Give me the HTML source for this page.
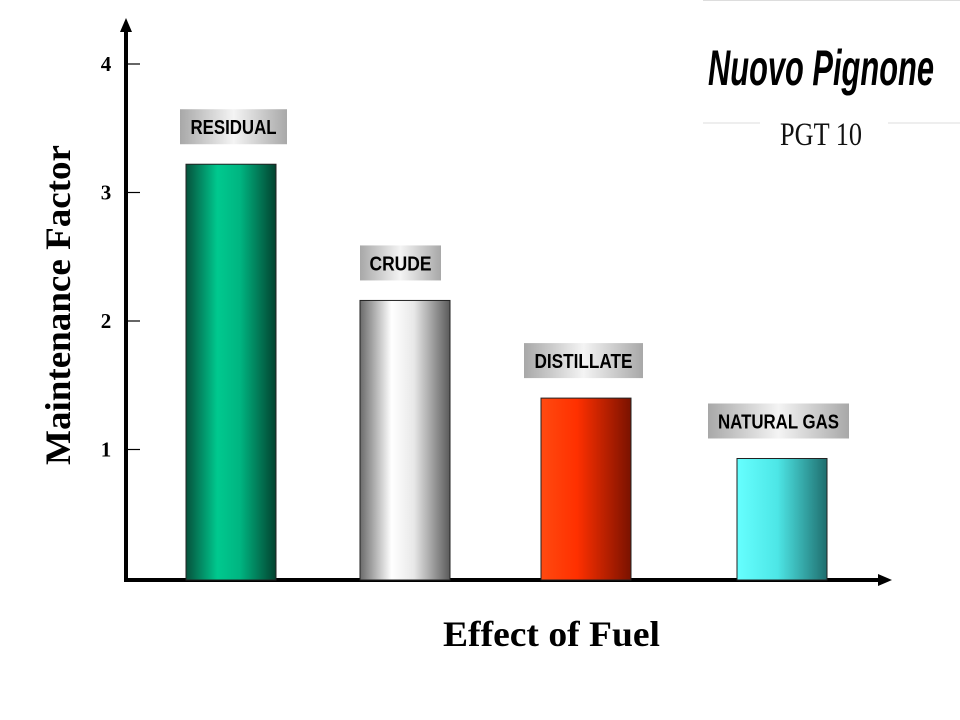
<!DOCTYPE html>
<html><head><meta charset="utf-8"><style>
body{margin:0;background:#fff;}
svg{display:block;}
</style></head><body>
<svg id="chart" width="960" height="720" viewBox="0 0 960 720" xmlns="http://www.w3.org/2000/svg">
<defs>
<linearGradient id="gGreen" x1="0" x2="1"><stop offset="0" stop-color="#06523c"/><stop offset="0.35" stop-color="#00c98f"/><stop offset="0.6" stop-color="#00b581"/><stop offset="1" stop-color="#03422f"/></linearGradient>
<linearGradient id="gGrey" x1="0" x2="1"><stop offset="0" stop-color="#6a6a6a"/><stop offset="0.35" stop-color="#ffffff"/><stop offset="0.6" stop-color="#e8e8e8"/><stop offset="1" stop-color="#5a5a5a"/></linearGradient>
<linearGradient id="gRed" x1="0" x2="1"><stop offset="0" stop-color="#ff4a10"/><stop offset="0.4" stop-color="#ff3000"/><stop offset="1" stop-color="#7a1200"/></linearGradient>
<linearGradient id="gCyan" x1="0" x2="1"><stop offset="0" stop-color="#66ffff"/><stop offset="0.45" stop-color="#4de6e6"/><stop offset="1" stop-color="#1f6e6e"/></linearGradient>
<linearGradient id="gLabel" x1="0" x2="1"><stop offset="0" stop-color="#a8a8a8"/><stop offset="0.5" stop-color="#f4f4f4"/><stop offset="1" stop-color="#a8a8a8"/></linearGradient>
</defs>
<g>
<line x1="703" y1="0.5" x2="960" y2="0.5" stroke="#ddd"/>
<text x="708" y="85" font-family="'Liberation Sans',sans-serif" font-weight="bold" font-style="italic" font-size="50" textLength="226" lengthAdjust="spacingAndGlyphs" fill="#000">Nuovo Pignone</text>
<line x1="703" y1="123" x2="760" y2="123" stroke="#ddd"/>
<line x1="888" y1="123" x2="960" y2="123" stroke="#ddd"/>
<text x="780" y="145" font-family="'Liberation Serif',serif" font-size="33" textLength="82" lengthAdjust="spacingAndGlyphs" fill="#111">PGT 10</text>
</g>
<g id="axes"></g>
<g id="bars"></g>
<text transform="translate(70,305) rotate(-90)" text-anchor="middle" font-family="'Liberation Serif',serif" font-weight="bold" font-size="36" textLength="320" lengthAdjust="spacingAndGlyphs" fill="#000">Maintenance Factor</text>
<text x="443" y="646" font-family="'Liberation Serif',serif" font-weight="bold" font-size="36" textLength="217" lengthAdjust="spacingAndGlyphs" fill="#000">Effect of Fuel</text>
</svg>
<script>
const categories = ["RESIDUAL","CRUDE","DISTILLATE","NATURAL GAS"];
const values = [3.22, 2.16, 1.40, 0.93];
const tickValues = [1,2,3,4];
const tickLabels = ["1","2","3","4"];
const fills = ["url(#gGreen)","url(#gGrey)","url(#gRed)","url(#gCyan)"];
const NS="http://www.w3.org/2000/svg";
const y0=578, unit=128.5;
function yScale(v){return y0-v*unit;}
const barX=[186,360,541,737], barW=90;
const labelW=[107,81,119,141], labelOff=[-6,0,-17,-29], textW=[86,62,98,121];
function mk(tag,attrs,parent){const e=document.createElementNS(NS,tag);for(const k in attrs)e.setAttribute(k,attrs[k]);parent.appendChild(e);return e;}
const axes=document.getElementById('axes');
const yAxis=mk('line',{x1:126,y1:30,x2:126,y2:582,stroke:'#000','stroke-width':4},axes);


const ya=mk('polygon',{points:'126,18 120,32 132,32',fill:'#000'},axes);


const xAxis=mk('line',{x1:124,y1:580,x2:880,y2:580,stroke:'#000','stroke-width':4},axes);


const xa=mk('polygon',{points:'892,580 878,574 878,586',fill:'#000'},axes);


tickValues.forEach((v,i)=>{
  const y=yScale(v);
  const t=mk('line',{x1:126,y1:y,x2:140,y2:y,stroke:'#000','stroke-width':1.2},axes);
  
  
  const l=mk('text',{x:106,y:y+7,'text-anchor':'middle','font-family':"'Liberation Serif',serif",'font-weight':'bold','font-size':21},axes);
  l.textContent=tickLabels[i];
  
  
});
const bars=document.getElementById('bars');
categories.forEach((c,i)=>{
  const top=yScale(values[i]);
  const r=mk('rect',{x:barX[i],y:top,width:barW,height:580-top,fill:fills[i],stroke:'#222','stroke-width':1},bars);
  
  
  const lx=barX[i]+labelOff[i], ly=top-55;
  const b=mk('rect',{x:lx,y:ly,width:labelW[i],height:35,fill:'url(#gLabel)'},bars);
  
  
  const t=mk('text',{x:lx+(labelW[i]-textW[i])/2,y:ly+25,'font-family':"'Liberation Sans',sans-serif",'font-weight':'bold','font-size':20,textLength:textW[i],lengthAdjust:'spacingAndGlyphs'},bars);
  t.textContent=c;
  
  
});
</script>
</body></html>
